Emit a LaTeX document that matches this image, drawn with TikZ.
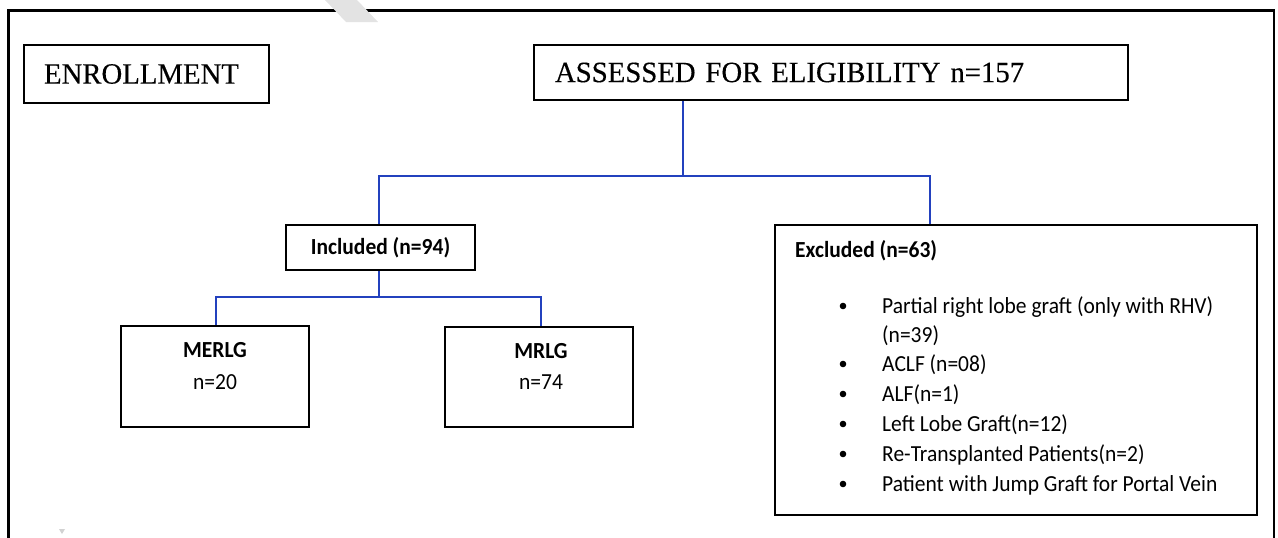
\documentclass[tikz,border=0pt]{standalone}
\usepackage{fontspec}
\setmainfont[FakeStretch=0.975,FakeBold=0.3]{Liberation Serif}
\newfontfamily\calfont[FakeStretch=0.935]{Carlito}
\definecolor{linkblue}{RGB}{35,65,190}
\begin{document}
\begin{tikzpicture}[x=1pt,y=-1pt,
  box/.style={draw=black, line width=2.2pt, inner sep=0pt},
  conn/.style={draw=linkblue, line width=1.4pt},
  serifbig/.style={font=\fontsize{29.5}{33}\selectfont},
  calbold/.style={font=\calfont\bfseries\fontsize{23}{27}\selectfont},
  calreg/.style={font=\calfont\fontsize{23}{27}\selectfont},
  txt/.style={inner sep=0pt, anchor=base west},
  ctxt/.style={inner sep=0pt, anchor=base}]
\useasboundingbox (0,0) rectangle (1278,538);
% outer frame (open at bottom)
\draw[line width=2.4pt] (8.5,538) -- (8.5,10.5) -- (1274,10.5) -- (1274,538);
% watermark fragments
\fill[gray!22] (325,0) -- (357,0) -- (378,22) -- (346,22) -- cycle;
\fill[gray!35] (59,529) -- (65,529) -- (62,534) -- cycle;

% boxes
\node[box, serifbig, minimum width=245pt, minimum height=58pt, text width=205pt, inner xsep=20pt, align=left] (enroll) at (146.5,74) {ENROLLMENT};
\node[box, serifbig, minimum width=594pt, minimum height=55pt, text width=552pt, inner xsep=21pt, align=left] (assess) at (831,72.5) {ASSESSED FOR ELIGIBILITY n=157};
\node[box, calbold, minimum width=189pt, minimum height=45pt] (incl) at (380.5,247.5) {Included (n=94)};
\node[box, minimum width=188pt, minimum height=101pt] (merlg) at (215,376.5) {};
\node[box, minimum width=188pt, minimum height=100pt] (mrlg) at (539,377) {};
\node[box, minimum width=482pt, minimum height=290pt] (excl) at (1016,370) {};

% texts in the lower boxes
\node[ctxt, calbold] (merlgA) at (215,357) {MERLG};
\node[ctxt, calreg] (merlgB) at (215,389) {n=20};
\node[ctxt, calbold] (mrlgA) at (541,358) {MRLG};
\node[ctxt, calreg] (mrlgB) at (541,389) {n=74};

\node[txt, calbold] (exh) at (795,257) {Excluded (n=63)};
\foreach \yy/\tt/\bb [count=\i] in {
  313/{Partial right lobe graft (only with RHV)}/1,
  342/{(n=39)}/0,
  371/{ACLF (n=08)}/1,
  401/{ALF(n=1)}/1,
  431/{Left Lobe Graft(n=12)}/1,
  461/{Re-Transplanted Patients(n=2)}/1,
  491/{Patient with Jump Graft for Portal Vein}/1}{
  \node[txt, calreg] (item\i) at (882,\yy) {\tt};
  \ifnum\bb=1 \fill (843,\yy-7) circle (3.3pt); \fi
}

% connectors
\coordinate (j1) at (683,176);
\coordinate (j1r) at (930,176);
\coordinate (j2) at (379,297);
\draw[conn] (j1 |- assess.south) -- (j1);
\draw[conn] (incl.north -| j2) |- (j1r) -- (j1r |- excl.north);
\draw[conn] (incl.south -| j2) -- (j2);
\draw[conn] (merlg.north -| 216,0) |- (j2) -| (mrlg.north -| 541,0);
\end{tikzpicture}
\end{document}
